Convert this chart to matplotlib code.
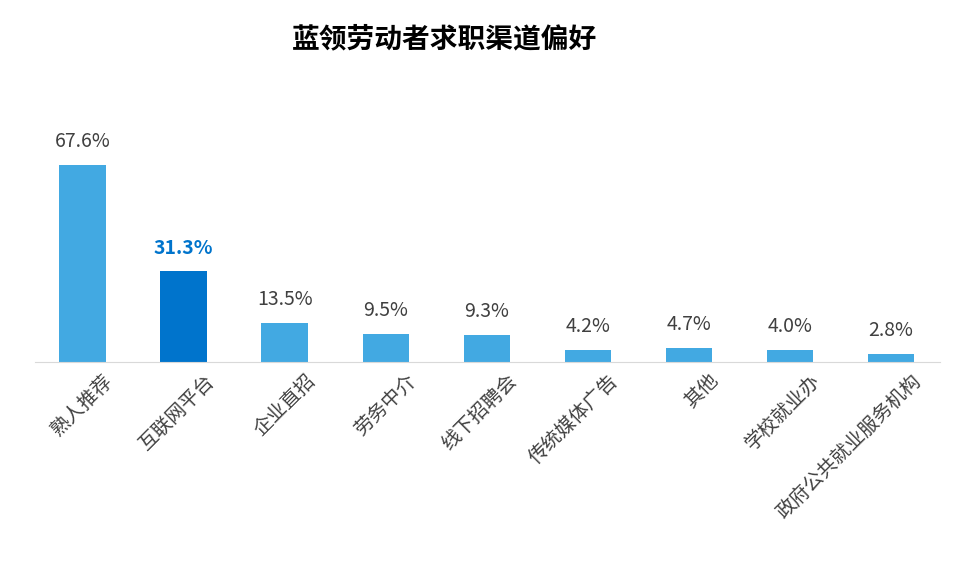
import matplotlib
matplotlib.use("Agg")
import matplotlib.pyplot as plt
import matplotlib.transforms as mtransforms

plt.rcParams['font.family'] = ['Noto Sans CJK SC', 'DejaVu Sans']

categories = ["熟人推荐", "互联网平台", "企业直招", "劳务中介", "线下招聘会", "传统媒体广告", "其他", "学校就业办", "政府公共就业服务机构"]
values = [67.6, 31.3, 13.5, 9.5, 9.3, 4.2, 4.7, 4.0, 2.8]
highlight = 1

fig = plt.figure(figsize=(9.63, 5.69), dpi=100)
ax = fig.add_axes([0.036, 0.364, 0.94, 0.46])
x = list(range(len(values)))
colors = ['#0074CC' if i == highlight else '#42A9E2' for i in x]
ax.bar(x, values, width=0.46, color=colors)
ax.set_xlim(-0.475, 8.485)
ax.set_ylim(0, 90)
for i, v in enumerate(values):
    hl = i == highlight
    ax.text(i, v + 4.5, f"{v:.1f}%", ha='center', va='bottom', fontsize=14,
            color='#0074CC' if hl else '#404040', fontweight='bold' if hl else 'normal')
for s in ['top', 'right', 'left']:
    ax.spines[s].set_visible(False)
ax.spines['bottom'].set_color('#D9D9D9')
ax.set_yticks([])
ax.set_xticks(x)
ax.set_xticklabels(categories, rotation=45, ha='right', rotation_mode='anchor', fontsize=14, color='#404040')
ax.tick_params(axis='x', length=0, pad=6)
off = mtransforms.ScaledTranslation(0.2, 0, fig.dpi_scale_trans)
for lab in ax.get_xticklabels():
    lab.set_transform(lab.get_transform() + off)
fig.text(0.462, 0.93, "蓝领劳动者求职渠道偏好", ha='center', va='center', fontsize=20, fontweight='bold', color='#000000')
fig.savefig("out.png", dpi=100)
